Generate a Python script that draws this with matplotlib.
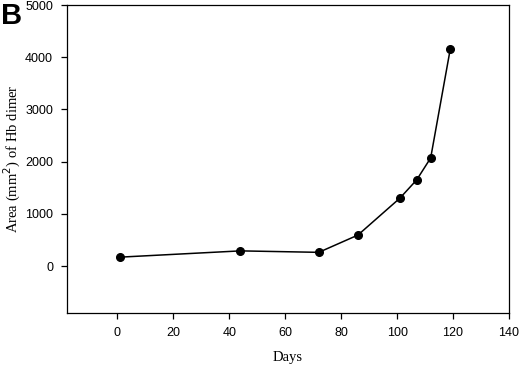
import matplotlib
matplotlib.use("Agg")
import matplotlib.pyplot as plt

plt.rcParams["font.family"] = ["Liberation Sans", "DejaVu Sans"]

days = [1, 44, 72, 86, 101, 107, 112, 119]
area = [170, 290, 262, 593, 1300, 1650, 2070, 4155]
xticks = [0, 20, 40, 60, 80, 100, 120, 140]
yticks = [0, 1000, 2000, 3000, 4000, 5000]

fig = plt.figure(figsize=(5.2, 3.65), dpi=100)
ax = fig.add_axes([67/520, 1-313/365, (509-67)/520, (313-5)/365])

ax.plot(days, area, color="black", lw=1.1, marker="o", ms=5.5, mfc="black", mec="black")
ax.set_xlim(-18, 140)
ax.set_ylim(-900, 5000)
ax.set_xticks(xticks)
ax.set_yticks(yticks)
ax.tick_params(direction="out", length=4, width=0.9, pad=6, labelsize=9)
for s in ax.spines.values():
    s.set_linewidth(0.9)

ax.set_xlabel("Days", family="Liberation Serif", fontsize=10.5, va="center")
ax.xaxis.set_label_coords(0.5, (313-357)/308)
ax.set_ylabel("Area (mm$^2$) of Hb dimer", family="Liberation Serif", fontsize=10.5, va="center")
ax.yaxis.set_label_coords((12-67)/442, 0.5)

fig.text(0.002, 0.995, "B", weight="bold", fontsize=21, va="top", ha="left")

fig.savefig("out.png", dpi=100)
